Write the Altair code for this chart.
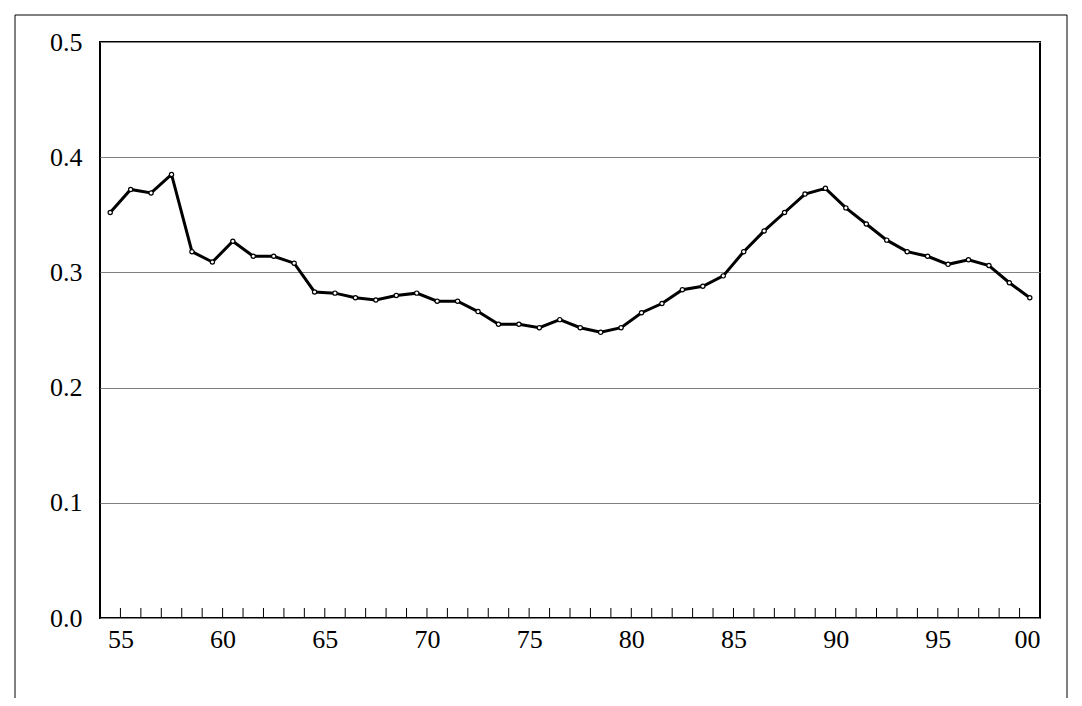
import pandas as pd
import altair as alt

years = list(range(1955, 2001))
values = [0.352, 0.372, 0.369, 0.385, 0.318, 0.309, 0.327, 0.314, 0.314, 0.308,
          0.283, 0.282, 0.278, 0.276, 0.280, 0.282, 0.275, 0.275, 0.266, 0.255,
          0.255, 0.252, 0.259, 0.252, 0.248, 0.252, 0.265, 0.273, 0.285, 0.288,
          0.297, 0.318, 0.336, 0.352, 0.368, 0.373, 0.356, 0.342, 0.328, 0.318,
          0.314, 0.307, 0.311, 0.306, 0.291, 0.278]

df = pd.DataFrame({'i': range(len(years)), 'value': values})
df_ticks = pd.DataFrame({'t': [k + 0.5 for k in range(45)], 'y0': 0.0, 'y1': 0.0087})

label_vals = [k + 0.5 for k in range(0, 46, 5)]

x_scale = alt.Scale(domain=[-0.5, 45.5], nice=False, zero=False)
y_scale = alt.Scale(domain=[0, 0.5], nice=False)

line = alt.Chart(df).mark_line(
    color='black', strokeWidth=3,
    point=alt.OverlayMarkDef(filled=False, fill='white', stroke='black', size=18, strokeWidth=1.2)
).encode(
    alt.X('i:Q', scale=x_scale, title=None,
          axis=alt.Axis(values=label_vals, labelExpr="slice('0' + ((55 + round(datum.value - 0.5)) % 100), -2)",
                        ticks=False, grid=False, domain=False, labelPadding=8,
                        labelFontSize=26, labelFont='Liberation Serif')),
    alt.Y('value:Q', scale=y_scale, title=None,
          axis=alt.Axis(values=[0, 0.1, 0.2, 0.3, 0.4, 0.5], format='.1f', ticks=False,
                        domain=False, gridColor='#808080', gridWidth=1, labelPadding=18,
                        labelFontSize=26, labelFont='Liberation Serif'))
)

ticks = alt.Chart(df_ticks).mark_rule(color='black', strokeWidth=1).encode(
    x=alt.X('t:Q', scale=x_scale), y=alt.Y('y0:Q', scale=y_scale), y2='y1:Q'
)

border = alt.Chart(pd.DataFrame({'a': [0]})).mark_rect(
    fill=None, stroke='black', strokeWidth=1, clip=False
).encode(x=alt.value(-85), x2=alt.value(967), y=alt.value(-27), y2=alt.value(658))

chart = (line + ticks + border).properties(
    width=940, height=576, padding={'left': 92, 'top': 34, 'right': 30, 'bottom': 80},
    autosize=alt.AutoSizeParams(type='none')
).configure_view(stroke='black', strokeWidth=2).configure_axis(
    labelColor='black'
)

chart.save("out.html", embed_options={"renderer": "svg", "actions": False})
